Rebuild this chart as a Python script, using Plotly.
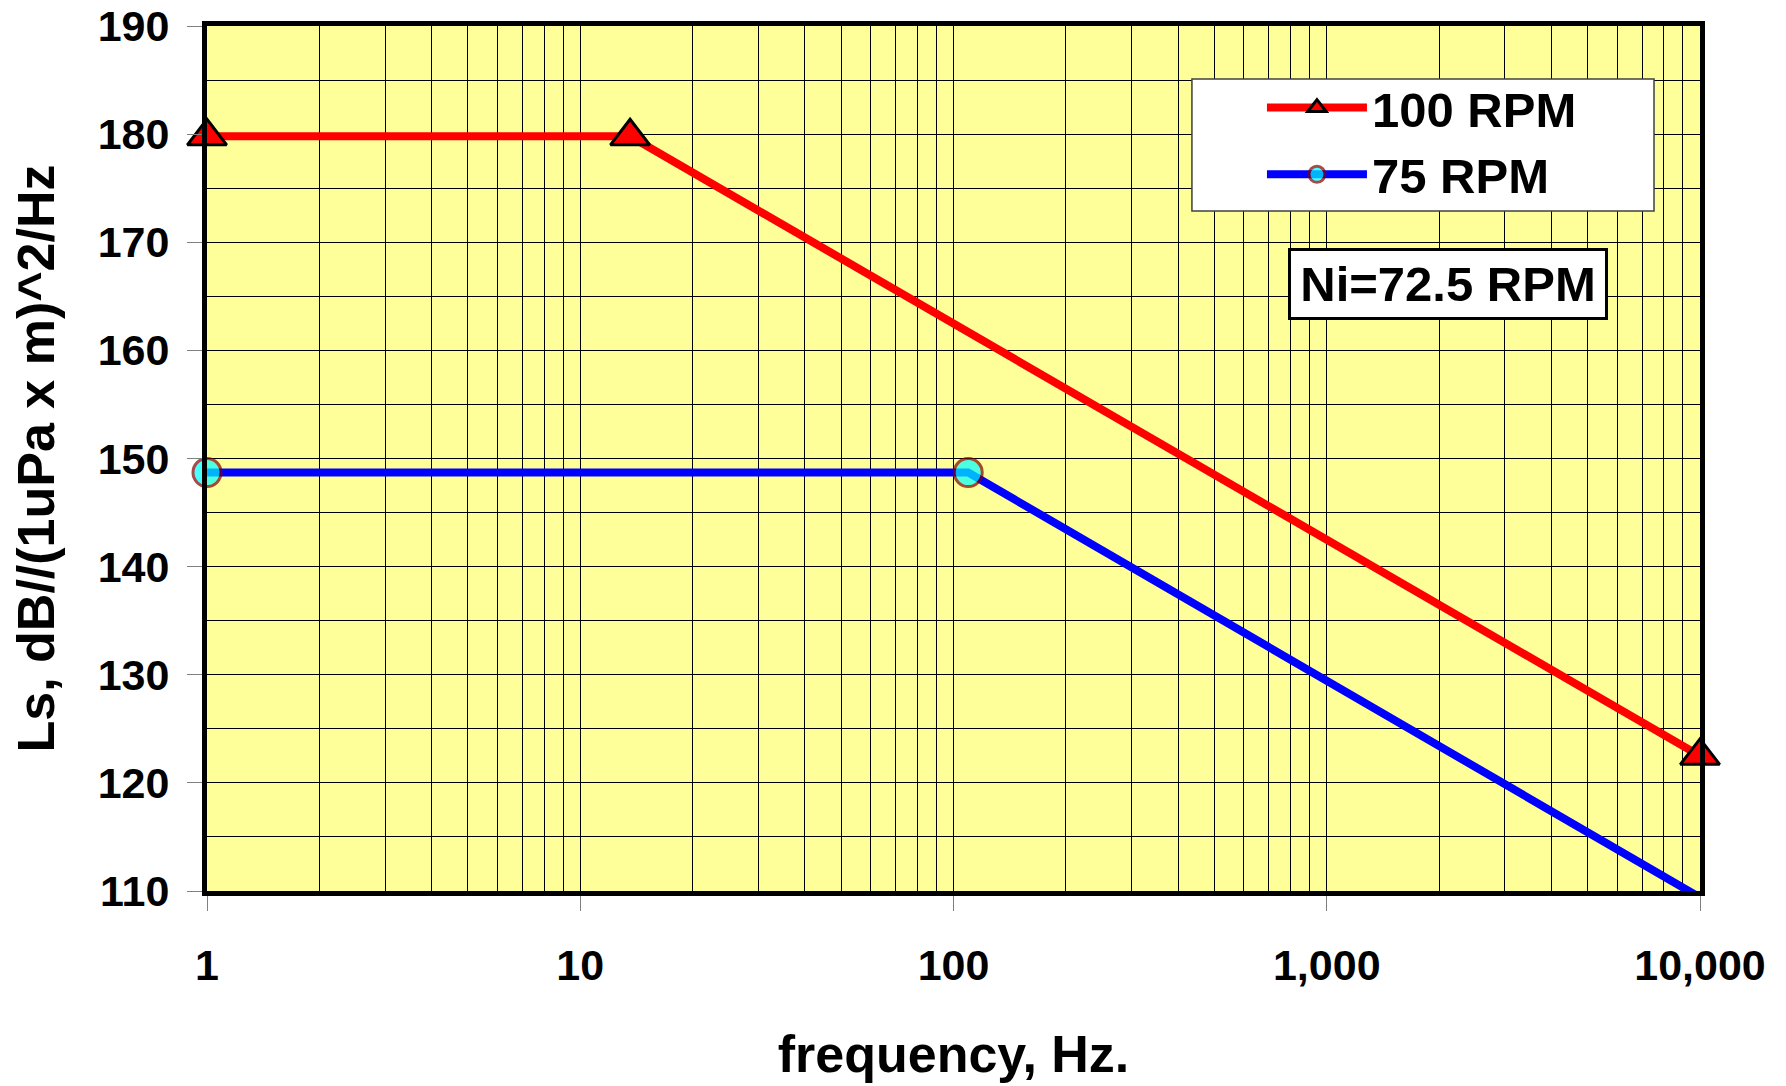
import plotly.graph_objects as go

# ---- data ----
freq_100 = [1, 13.6, 10000]
ls_100 = [179.8, 179.8, 122.5]
freq_75 = [1, 109.5, 10000]
ls_75 = [148.7, 148.7, 109.4]

x_tickvals = [1, 10, 100, 1000, 10000]
x_ticktext = ["1", "10", "100", "1,000", "10,000"]
y_tickvals = [110, 120, 130, 140, 150, 160, 170, 180, 190]

FONT = "Liberation Sans, Arial, sans-serif"

fig = go.Figure()
fig.add_trace(go.Scatter(
    x=freq_100, y=ls_100, name="100 RPM", mode="lines+markers",
    line=dict(color="#FF0000", width=8),
    marker=dict(symbol="triangle-up", size=34, color="#FF0000",
                line=dict(color="#000000", width=3)),
    cliponaxis=False,
))
fig.add_trace(go.Scatter(
    x=freq_75, y=ls_75, name="75 RPM", mode="lines+markers",
    line=dict(color="#0000FF", width=8),
    marker=dict(symbol="circle", size=[28, 28, 0], color="#00FFFF",
                line=dict(color="#800000", width=3)),
    cliponaxis=False,
))

fig.update_layout(
    width=1786, height=1086,
    margin=dict(l=207, r=86, t=26, b=195, pad=0, autoexpand=False),
    paper_bgcolor="#FFFFFF",
    plot_bgcolor="#FFFF99",
    font=dict(family=FONT, color="#000000", weight="bold"),
    showlegend=True,
    legend=dict(
        x=0.7066, y=0.950, xanchor="left", yanchor="top",
        bgcolor="rgba(0,0,0,0)", borderwidth=0,
        itemwidth=100,
        font=dict(family=FONT, size=49, color="#000000", weight="bold"),
        tracegroupgap=0,
    ),
    shapes=[dict(
        type="rect", xref="paper", yref="paper",
        x0=0.6597, x1=0.9692, y0=0.786, y1=0.9387,
        fillcolor="#FFFFFF", line=dict(color="#404040", width=1.5),
        layer="above",
    )],
    annotations=[dict(
        text="Ni=72.5 RPM", xref="paper", yref="paper",
        x=0.8309, y=0.7023, xanchor="center", yanchor="middle",
        showarrow=False, width=306, height=58,
        font=dict(family=FONT, size=49, color="#000000", weight="bold"),
        bgcolor="#FFFFFF", bordercolor="#000000", borderwidth=3, borderpad=4,
    )],
)

fig.update_xaxes(
    type="log", range=[0, 4], automargin=False,
    tickvals=x_tickvals, ticktext=x_ticktext,
    ticks="outside", ticklen=15, tickwidth=1, tickcolor="#808080",
    tickfont=dict(family=FONT, size=43, weight="bold"),
    ticklabelstandoff=17,
    showgrid=True, gridcolor="#000000", gridwidth=1,
    minor=dict(dtick="D1", showgrid=True, gridcolor="#000000", gridwidth=1, ticks=""),
    showline=True, linecolor="#000000", linewidth=5, mirror=True,
    zeroline=False,
    title=dict(text="frequency, Hz.", font=dict(family=FONT, size=52, weight="bold"), standoff=50),
)
fig.update_yaxes(
    range=[110, 190], automargin=False,
    tickvals=y_tickvals,
    ticks="outside", ticklen=15, tickwidth=1, tickcolor="#808080",
    tickfont=dict(family=FONT, size=43, weight="bold"),
    ticklabelstandoff=9,
    showgrid=True, gridcolor="#000000", gridwidth=1,
    minor=dict(dtick=5, tick0=110, showgrid=True, gridcolor="#000000", gridwidth=1, ticks=""),
    showline=True, linecolor="#000000", linewidth=5, mirror=True,
    zeroline=False,
    title=dict(text="Ls, dB//(1uPa x m)^2/Hz", font=dict(family=FONT, size=52, weight="bold"), standoff=28),
)

fig.write_html("out.html")
